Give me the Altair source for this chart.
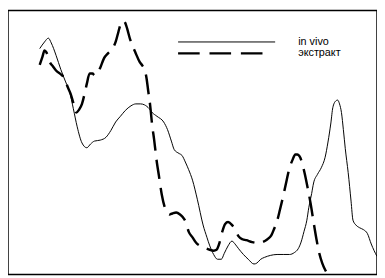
import altair as alt
import pandas as pd

# in vivo (solid) : x position, signal level
vivo_x = [33, 38, 42, 45, 50, 55, 60, 64, 68, 72, 77, 82, 86, 90, 96, 102, 107, 112, 117, 122,
          128, 133, 138, 142, 147, 150, 155, 162, 166, 170, 173, 178, 181, 185, 188, 192, 197, 203,
          207, 210, 214, 218, 222, 225, 229, 233, 237, 240, 245, 250, 256, 259, 263, 267, 273, 280,
          287, 293, 298, 302, 305, 308, 311, 313, 316, 318, 322, 326, 330, 333, 336, 338, 341, 343,
          345, 347, 349, 351, 354, 357, 359, 362, 366, 370, 374, 378, 381, 384]
vivo_px = [40, 33, 29, 34, 47, 62, 75, 85, 103, 122, 139, 144, 140, 137, 136, 133, 126, 117, 111, 105,
           100, 98, 98, 99, 103, 107, 111, 117, 125, 137, 146, 150, 152, 160, 167, 178, 198, 225,
           238, 247, 256, 261, 261, 255, 247, 242, 246, 250, 256, 261, 266, 265, 261, 259, 257, 256,
           256, 256, 254, 250, 243, 232, 220, 207, 192, 181, 172, 165, 154, 138, 118, 102, 95, 94,
           98, 107, 125, 145, 170, 200, 220, 225, 228, 230, 234, 245, 252, 258]

# экстракт (dashed)
ext_x = [33, 36, 38, 40, 43, 47, 50, 55, 58, 62, 65, 68, 71, 74, 77, 80, 82, 85, 88, 90, 93, 96,
         100, 104, 108, 112, 115, 117, 120, 122, 124, 127, 130, 133, 137, 140, 142, 144, 146, 148,
         150, 152, 155, 157, 160, 163, 166, 168, 171, 175, 179, 182, 185, 188, 192, 196, 200, 205,
         210, 214, 217, 220, 223, 226, 229, 233, 236, 240, 244, 248, 254, 260, 265, 270, 274, 277,
         280, 283, 287, 290, 293, 296, 299, 301, 304, 306, 309, 312, 315, 318, 321, 324, 327, 330, 333]
ext_px = [57, 48, 42, 44, 53, 59, 63, 67, 70, 80, 87, 97, 107, 104, 98, 86, 77, 66, 66, 68, 66, 60,
          50, 45, 41, 33, 22, 15, 11, 13, 19, 30, 38, 45, 54, 58, 62, 70, 85, 100,
          120, 135, 160, 173, 193, 206, 212, 214, 213, 212, 214, 217, 222, 232, 238, 244, 247, 249,
          251, 252, 251, 244, 232, 224, 222, 225, 229, 237, 240, 241, 243, 244, 243, 240, 236, 229,
          221, 209, 192, 178, 165, 157, 151, 151, 154, 160, 172, 187, 203, 222, 240, 255, 265, 272, 277]

H = 277
df = pd.concat([
    pd.DataFrame({"x": vivo_x, "y": [H - v for v in vivo_px], "series": "in vivo", "o": range(len(vivo_x))}),
    pd.DataFrame({"x": ext_x, "y": [H - v for v in ext_px], "series": "экстракт", "o": range(len(ext_x))}),
])

W, HH = 376, 269
sx = W / 384
sy = HH / 277

xs = alt.X("x:Q", scale=alt.Scale(domain=[0, 384], nice=False, zero=False), axis=None)
ys = alt.Y("y:Q", scale=alt.Scale(domain=[0, 277], nice=False, zero=False), axis=None)

vivo = alt.Chart(df[df.series == "in vivo"]).mark_line(
    color="black", strokeWidth=1, interpolate="monotone", clip=True
).encode(x=xs, y=ys, order="o:Q")

ext = alt.Chart(df[df.series == "экстракт"]).mark_line(
    color="black", strokeWidth=2.5, strokeDash=[20, 9], interpolate="monotone", clip=True
).encode(x=xs, y=ys, order="o:Q")

leg1 = alt.Chart().mark_rule(color="black", strokeWidth=1).encode(
    x=alt.value(177 * sx), x2=alt.value(278 * sx), y=alt.value(33 * sy))
leg2 = alt.Chart().mark_rule(color="black", strokeWidth=2.5, strokeDash=[22, 10]).encode(
    x=alt.value(177 * sx), x2=alt.value(266 * sx), y=alt.value(45 * sy))
t1 = alt.Chart().mark_text(text="in vivo", align="left", baseline="middle", font="Liberation Sans",
                           fontSize=11, color="black").encode(x=alt.value(302 * sx), y=alt.value(33 * sy))
t2 = alt.Chart().mark_text(text="экстракт", align="left", baseline="middle", font="Liberation Sans",
                           fontSize=11, color="black").encode(x=alt.value(302 * sx), y=alt.value(45 * sy))

chart = alt.layer(vivo, ext, leg1, leg2, t1, t2).properties(
    width=W, height=HH, padding=0, background="white"
).configure_view(stroke="black", strokeWidth=1.5)

chart.save("out.html", embed_options={"renderer": "svg", "actions": False})
